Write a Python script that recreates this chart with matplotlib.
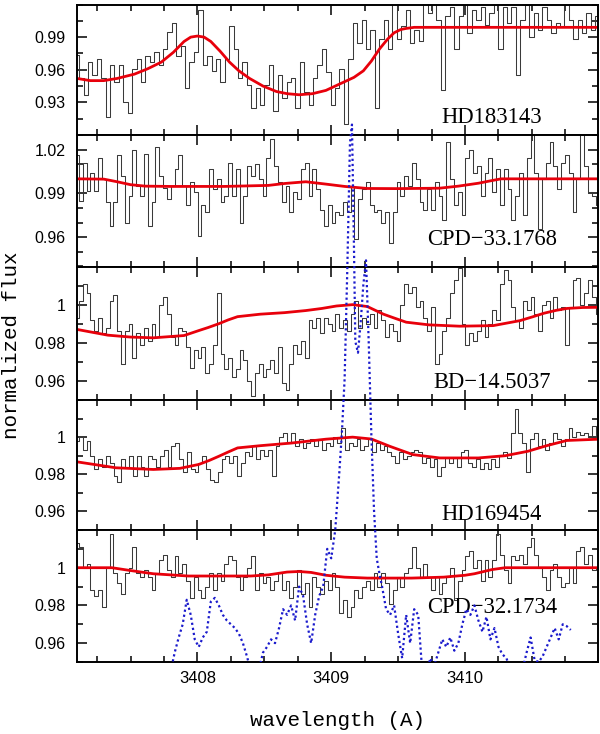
import numpy as np
import matplotlib
matplotlib.use("Agg")
import matplotlib.pyplot as plt
from matplotlib.patches import Rectangle
from matplotlib.ticker import MultipleLocator, FixedLocator, FixedFormatter

# ---------------- data ----------------
star_names = ["HD183143", "CPD\u221233.1768", "BD\u221214.5037", "HD169454", "CPD\u221232.1734"]
wave_start, wave_end = 3407.10, 3410.99

flux_hd183143 = [
    0.974, 0.952, 0.937, 0.967, 0.955, 0.970, 0.952, 0.917, 0.964, 0.949, 0.964, 0.930, 0.920, 0.961,
    0.970, 0.949, 0.973, 0.967, 0.976, 0.964, 0.979, 0.995, 1.003, 0.973, 0.982, 0.943, 0.967, 0.976,
    1.015, 0.964, 0.973, 0.959, 0.970, 0.949, 0.970, 1.000, 0.979, 0.952, 0.967, 0.946, 0.925, 0.943,
    0.928, 0.946, 0.964, 0.922, 0.955, 0.934, 0.949, 0.952, 0.925, 0.967, 0.940, 0.928, 0.952, 0.964,
    0.979, 0.958, 0.928, 0.943, 0.961, 0.910, 0.970, 1.003, 0.985, 1.006, 0.979, 0.997, 0.925, 0.988,
    1.006, 0.979, 1.025, 0.988, 1.000, 1.015, 0.985, 0.997, 0.986, 1.025, 1.012, 1.025, 1.006, 0.941,
    1.009, 1.018, 0.979, 1.009, 1.025, 0.994, 1.015, 1.006, 1.018, 1.001, 1.012, 1.025, 0.979, 1.018,
    1.003, 1.018, 0.955, 1.006, 1.020, 0.990, 1.012, 0.997, 1.018, 1.006, 0.994, 1.003, 0.999, 1.025,
    1.006, 0.988, 1.006, 0.994, 1.012, 0.997, 1.009,
]
flux_cpd33 = [
    1.016, 0.985, 1.011, 0.992, 1.004, 0.992, 1.014, 1.000, 0.984, 0.968, 0.984, 1.016, 1.002, 0.970,
    0.988, 1.020, 0.995, 0.988, 1.017, 0.968, 0.984, 1.022, 1.002, 0.994, 0.986, 0.995, 1.007, 1.016,
    0.995, 0.982, 0.998, 0.991, 0.961, 0.982, 0.977, 1.007, 0.993, 1.000, 0.984, 0.988, 1.011, 0.988,
    1.007, 0.970, 0.988, 1.009, 1.002, 1.010, 1.000, 0.988, 1.014, 1.027, 1.009, 0.998, 0.984, 0.995,
    0.977, 0.991, 0.986, 1.007, 1.011, 0.988, 1.007, 0.993, 0.979, 0.968, 0.982, 0.970, 0.977, 0.975,
    0.984, 0.977, 0.995, 0.959, 0.986, 0.993, 0.998, 0.982, 0.977, 0.979, 0.970, 0.977, 0.956, 0.977,
    0.998, 0.988, 1.002, 0.995, 1.011, 1.000, 0.984, 0.979, 0.993, 0.979, 0.998, 0.988, 0.972, 1.025,
    1.000, 0.982, 0.991, 0.975, 1.014, 1.020, 1.004, 1.009, 0.988, 1.004, 1.014, 0.991, 1.007, 0.982,
    1.007, 0.993, 0.972, 0.988, 1.004, 0.975, 1.014, 1.030, 1.004, 0.966, 1.000, 1.011, 1.025, 1.009,
    0.993, 1.011, 1.016, 1.004, 0.977, 1.000, 1.030, 1.009, 0.991, 0.988, 0.982,
]
flux_bd14 = [
    0.993, 1.002, 1.011, 1.006, 0.992, 0.986, 0.993, 0.985, 0.988, 1.002, 1.005, 0.986, 0.969, 0.986,
    0.990, 0.972, 0.985, 0.979, 0.988, 0.981, 0.990, 0.983, 1.000, 1.004, 0.995, 0.983, 0.979, 0.988,
    0.986, 0.978, 0.967, 0.976, 0.972, 0.978, 0.964, 0.969, 0.979, 1.006, 0.974, 0.966, 0.972, 0.962,
    0.966, 0.976, 0.971, 0.960, 0.952, 0.964, 0.969, 0.962, 0.966, 0.971, 0.964, 0.978, 0.959, 0.955,
    0.969, 0.979, 0.974, 0.981, 0.972, 0.992, 0.988, 0.993, 0.985, 0.993, 0.990, 0.986, 0.995, 0.988,
    0.992, 0.986, 0.995, 1.002, 0.988, 0.993, 0.990, 0.995, 0.988, 0.997, 0.992, 0.983, 0.990, 0.986,
    0.981, 1.000, 1.011, 1.006, 1.009, 0.999, 1.002, 0.993, 0.986, 0.999, 0.969, 0.974, 0.986, 0.993,
    1.006, 1.013, 1.019, 0.990, 0.979, 0.985, 0.981, 0.986, 0.992, 0.983, 0.990, 0.997, 0.992, 1.011,
    1.018, 1.013, 0.999, 0.992, 0.988, 1.002, 0.997, 1.004, 0.995, 0.986, 1.000, 1.002, 0.993, 1.004,
    0.997, 0.999, 0.979, 0.999, 1.013, 1.014, 1.000, 1.006, 1.013, 1.004, 0.995,
]
flux_hd169454 = [
    0.998, 1.000, 0.993, 0.998, 0.990, 0.983, 0.988, 0.984, 0.990, 0.986, 0.979, 0.976, 0.988, 0.984,
    0.990, 0.979, 0.990, 0.984, 0.979, 0.990, 0.988, 0.984, 0.990, 0.993, 0.984, 0.995, 0.997, 0.988,
    0.981, 0.992, 0.983, 0.981, 0.986, 0.990, 0.983, 0.977, 0.976, 0.981, 0.988, 0.990, 0.986, 0.990,
    0.979, 0.986, 0.992, 0.990, 0.995, 0.988, 0.993, 0.990, 0.993, 0.979, 0.995, 1.000, 1.002, 0.997,
    1.002, 0.995, 0.999, 0.994, 0.997, 0.999, 0.995, 0.999, 0.993, 0.997, 0.995, 1.000, 0.997, 1.005,
    0.993, 0.997, 0.995, 0.999, 0.993, 0.995, 0.999, 0.992, 0.997, 0.993, 0.995, 0.992, 0.990, 0.986,
    0.992, 0.988, 0.990, 0.992, 0.993, 0.992, 0.986, 0.989, 0.984, 0.988, 0.979, 0.984, 0.989, 0.986,
    0.989, 0.984, 0.992, 0.993, 0.986, 0.984, 0.988, 0.983, 0.986, 0.983, 0.988, 0.984, 0.990, 0.992,
    0.989, 1.002, 1.015, 1.002, 0.997, 0.981, 0.999, 1.002, 0.995, 0.999, 0.993, 0.997, 1.002, 0.999,
    0.995, 0.999, 1.005, 1.000, 1.003, 1.001, 1.002, 1.000, 1.006, 1.001,
]
flux_cpd32 = [
    1.013, 1.011, 1.000, 1.002, 0.988, 0.985, 0.988, 0.979, 1.000, 1.018, 0.997, 0.992, 0.986, 0.997,
    1.000, 1.011, 0.997, 0.995, 0.999, 0.995, 0.988, 0.997, 1.004, 1.007, 0.999, 0.995, 1.006, 0.997,
    1.002, 0.993, 0.984, 0.995, 0.988, 0.984, 0.990, 0.997, 0.988, 0.997, 0.993, 1.002, 1.006, 1.004,
    0.995, 0.988, 0.995, 1.000, 1.006, 0.988, 0.997, 0.992, 0.995, 0.988, 0.993, 0.997, 0.988, 0.993,
    0.984, 0.990, 0.999, 0.986, 0.992, 0.979, 0.995, 0.990, 0.986, 0.993, 0.988, 0.997, 0.990, 0.976,
    0.983, 0.974, 0.979, 0.988, 0.984, 0.990, 0.993, 0.988, 0.997, 0.990, 0.997, 0.992, 0.981, 0.988,
    0.995, 0.990, 0.997, 1.000, 1.011, 1.000, 0.995, 1.002, 0.995, 0.988, 0.995, 0.986, 0.992, 0.995,
    1.000, 0.983, 0.993, 0.999, 1.006, 1.009, 1.000, 1.004, 0.993, 1.004, 0.995, 1.004, 1.018, 1.007,
    0.999, 0.992, 1.006, 1.004, 1.007, 1.002, 1.011, 1.016, 1.007, 1.000, 0.995, 0.988, 0.999, 1.002,
    0.995, 0.990, 0.992, 1.000, 0.992, 1.009, 1.011, 1.002, 1.007, 0.999, 1.000,
]

model_wave_hd183143 = [3407.10, 3407.20, 3407.30, 3407.40, 3407.53, 3407.63, 3407.73, 3407.82, 3407.90,
                       3407.95, 3408.00, 3408.05, 3408.10, 3408.17, 3408.24, 3408.31, 3408.39, 3408.49,
                       3408.59, 3408.67, 3408.76, 3408.86, 3408.96, 3409.03, 3409.10, 3409.17, 3409.24,
                       3409.30, 3409.36, 3409.42, 3409.47, 3409.52, 3409.56, 3409.62, 3409.67, 3410.00,
                       3410.50, 3411.00]
model_flux_hd183143 = [0.952, 0.950, 0.950, 0.952, 0.956, 0.961, 0.967, 0.976, 0.986, 0.990, 0.991, 0.990,
                       0.986, 0.977, 0.967, 0.959, 0.952, 0.945, 0.940, 0.938, 0.937, 0.938, 0.941, 0.945,
                       0.949, 0.953, 0.959, 0.968, 0.979, 0.988, 0.994, 0.997, 0.998, 0.999, 0.999, 0.999,
                       0.999, 0.999]
model_wave_cpd33 = [3407.10, 3407.30, 3407.40, 3407.50, 3407.61, 3407.80, 3408.20, 3408.53, 3408.65,
                    3408.81, 3408.95, 3409.10, 3409.27, 3409.50, 3409.81, 3409.95, 3410.10, 3410.20,
                    3410.27, 3410.60, 3411.00]
model_flux_cpd33 = [1.000, 0.9998, 0.998, 0.996, 0.995, 0.9948, 0.9948, 0.9955, 0.9968, 0.998, 0.9965,
                    0.9948, 0.9934, 0.9933, 0.9936, 0.995, 0.997, 0.9988, 1.000, 1.000, 1.000]
model_wave_bd14 = [3407.10, 3407.33, 3407.50, 3407.67, 3407.90, 3408.01, 3408.08, 3408.16, 3408.23,
                   3408.30, 3408.47, 3408.65, 3408.81, 3408.93, 3409.04, 3409.16, 3409.27, 3409.33,
                   3409.39, 3409.47, 3409.56, 3409.73, 3409.96, 3410.21, 3410.41, 3410.50, 3410.59,
                   3410.68, 3410.76, 3410.88, 3411.00]
model_flux_bd14 = [0.987, 0.984, 0.983, 0.9826, 0.9838, 0.9864, 0.988, 0.990, 0.992, 0.9937, 0.995,
                   0.9958, 0.9969, 0.998, 0.9993, 1.000, 0.999, 0.997, 0.995, 0.993, 0.9908, 0.9894,
                   0.9887, 0.989, 0.9916, 0.9935, 0.9955, 0.997, 0.998, 0.9985, 0.9986]
model_wave_hd169454 = [3407.10, 3407.39, 3407.67, 3407.87, 3408.01, 3408.09, 3408.16, 3408.23, 3408.30,
                       3408.47, 3408.70, 3408.96, 3409.16, 3409.30, 3409.44, 3409.61, 3409.81, 3410.10,
                       3410.30, 3410.47, 3410.61, 3410.76, 3411.00]
model_flux_hd169454 = [0.9867, 0.9835, 0.9826, 0.9832, 0.9853, 0.9875, 0.9897, 0.992, 0.9942, 0.9954,
                       0.9968, 0.9989, 1.000, 0.999, 0.995, 0.9906, 0.9888, 0.9888, 0.990, 0.9924,
                       0.9954, 0.9982, 0.9989]
model_wave_cpd32 = [3407.10, 3407.36, 3407.50, 3407.67, 3407.93, 3408.40, 3408.53, 3408.67, 3408.76,
                    3408.85, 3408.96, 3409.10, 3409.27, 3409.60, 3409.84, 3410.00, 3410.07, 3410.20,
                    3410.30, 3411.00]
model_flux_cpd32 = [1.000, 1.000, 0.9985, 0.9968, 0.9956, 0.9956, 0.9962, 0.9977, 0.998, 0.9975, 0.996,
                    0.995, 0.9945, 0.9945, 0.995, 0.996, 0.9968, 0.999, 1.000, 1.000]

# comparison spectrum (blue dotted), in units of the bottom panel
comp_wave = [3407.80, 3407.83, 3407.86, 3407.89, 3407.92, 3407.95, 3407.98, 3408.01, 3408.04, 3408.07,
             3408.10, 3408.13, 3408.16, 3408.19, 3408.22, 3408.25, 3408.28, 3408.31, 3408.34, 3408.37,
             3408.40, 3408.43, 3408.46, 3408.49, 3408.52, 3408.55, 3408.58, 3408.61, 3408.64, 3408.67,
             3408.70, 3408.73, 3408.76, 3408.79, 3408.82, 3408.85, 3408.88, 3408.91, 3408.94, 3408.97,
             3409.00, 3409.03, 3409.06, 3409.08, 3409.10, 3409.12, 3409.14, 3409.155, 3409.17, 3409.18,
             3409.20, 3409.22, 3409.24, 3409.26, 3409.28, 3409.30, 3409.32, 3409.34, 3409.36, 3409.38,
             3409.41, 3409.44, 3409.47, 3409.50, 3409.53, 3409.56, 3409.59, 3409.62, 3409.65, 3409.68,
             3409.71, 3409.74, 3409.77, 3409.80, 3409.83, 3409.86, 3409.89, 3409.92, 3409.95, 3409.98,
             3410.01, 3410.04, 3410.07, 3410.10, 3410.13, 3410.16, 3410.19, 3410.22, 3410.25, 3410.28,
             3410.31, 3410.34, 3410.37, 3410.40, 3410.43, 3410.46, 3410.49, 3410.52, 3410.55, 3410.58,
             3410.61, 3410.64, 3410.67, 3410.70, 3410.73, 3410.76, 3410.79]
comp_flux = [0.945, 0.955, 0.963, 0.970, 0.983, 0.975, 0.962, 0.958, 0.963, 0.966,
             0.982, 0.984, 0.980, 0.975, 0.972, 0.970, 0.968, 0.965, 0.960, 0.953,
             0.945, 0.942, 0.946, 0.955, 0.958, 0.962, 0.960, 0.968, 0.978, 0.975,
             0.980, 0.972, 0.990, 0.985, 0.970, 0.960, 0.975, 0.985, 0.990, 1.010,
             1.005, 1.020, 1.050, 1.072, 1.100, 1.158, 1.225, 1.235, 1.170, 1.120,
             1.114, 1.130, 1.150, 1.163, 1.120, 1.070, 1.030, 1.005, 0.997, 0.990,
             0.978, 0.975, 0.980, 0.965, 0.952, 0.975, 0.960, 0.978, 0.975, 0.945,
             0.942, 0.952, 0.948, 0.955, 0.962, 0.958, 0.963, 0.956, 0.960, 0.970,
             0.978, 0.975, 0.980, 0.972, 0.966, 0.974, 0.962, 0.968, 0.958, 0.954,
             0.952, 0.945, 0.943, 0.944, 0.946, 0.955, 0.963, 0.951, 0.950, 0.953,
             0.958, 0.963, 0.968, 0.962, 0.970, 0.969, 0.967]

y_limits = [(0.90, 1.02), (0.94, 1.03), (0.95, 1.02), (0.95, 1.02), (0.95, 1.02)]
y_major = [[0.93, 0.96, 0.99], [0.96, 0.99, 1.02], [0.96, 0.98, 1.00], [0.96, 0.98, 1.00], [0.96, 0.98, 1.00]]
y_major_labels = [["0.93", "0.96", "0.99"], ["0.96", "0.99", "1.02"], ["0.96", "0.98", "1"],
                  ["0.96", "0.98", "1"], ["0.96", "0.98", "1"]]
y_minor_step = [0.015, 0.01, 0.01, 0.01, 0.01]
x_major = [3408, 3409, 3410]
x_major_labels = ["3408", "3409", "3410"]
label_y = [0.09, 0.163, 0.088, 0.077, 0.369]

spectra = [flux_hd183143, flux_cpd33, flux_bd14, flux_hd169454, flux_cpd32]
model_waves = [model_wave_hd183143, model_wave_cpd33, model_wave_bd14, model_wave_hd169454, model_wave_cpd32]
model_fluxes = [model_flux_hd183143, model_flux_cpd33, model_flux_bd14, model_flux_hd169454, model_flux_cpd32]

# ---------------- figure ----------------
W, H = 600, 734
fig = plt.figure(figsize=(6.0, 7.34), dpi=100)
left_px, right_px = 77, 597.5
bounds_px = [4.5, 135, 266.5, 400, 530, 662]

tick_font = dict(family="Liberation Sans", size=11.5)
axes = []
for i in range(5):
    top, bot = bounds_px[i], bounds_px[i + 1]
    ax = fig.add_axes([left_px / W, 1 - bot / H, (right_px - left_px) / W, (bot - top) / H])
    axes.append(ax)
    wl = np.linspace(wave_start, wave_end, len(spectra[i]))
    ax.plot(wl, spectra[i], drawstyle="steps-mid", color="#3a3a3a", lw=0.75)
    ax.plot(model_waves[i], model_fluxes[i], color="#e8000b", lw=2.0, solid_capstyle="round")
    ax.set_xlim(3407.10, 3410.99)
    ax.set_ylim(*y_limits[i])
    ax.xaxis.set_major_locator(FixedLocator(x_major))
    ax.xaxis.set_minor_locator(MultipleLocator(0.25))
    ax.yaxis.set_major_locator(FixedLocator(y_major[i]))
    ax.yaxis.set_major_formatter(FixedFormatter(y_major_labels[i]))
    ax.yaxis.set_minor_locator(MultipleLocator(y_minor_step[i]))
    ax.tick_params(which="both", direction="in", top=True, right=True, width=1.1, color="black")
    ax.tick_params(which="major", length=7.5)
    ax.tick_params(which="minor", length=4.0)
    ax.tick_params(axis="y", which="major", pad=8)
    ax.tick_params(axis="x", which="major", pad=6.5)
    for s in ax.spines.values():
        s.set_linewidth(1.4)
    for lab in ax.get_yticklabels():
        lab.set_fontfamily(tick_font["family"])
        lab.set_fontsize(tick_font["size"])
    if i < 4:
        ax.set_xticklabels([])
    else:
        ax.xaxis.set_major_formatter(FixedFormatter(x_major_labels))
        for lab in ax.get_xticklabels():
            lab.set_fontfamily(tick_font["family"])
            lab.set_fontsize(12)
    ax.text(0.797, label_y[i], star_names[i], transform=ax.transAxes, ha="center", va="baseline",
            family="Liberation Serif", fontsize=16.3)

# blue dotted comparison spectrum, drawn in the bottom panel's units, spilling upward
ax5 = axes[-1]
blue, = ax5.plot(comp_wave, comp_flux, color="#1a1acc", lw=1.6, ls=(0, (1.0, 1.3)),
                 dash_capstyle="butt", zorder=5)
clip = Rectangle((left_px / W, 1 - bounds_px[-1] / H), (right_px - left_px) / W, bounds_px[-1] / H,
                 transform=fig.transFigure, facecolor="none", edgecolor="none")
blue.set_clip_path(clip)

fig.text(12 / W, 1 - 345 / H, "normalized flux", rotation=90, ha="center", va="center",
         family="Liberation Mono", fontsize=15)
fig.text(337 / W, 1 - 721 / H, "wavelength (A)", ha="center", va="center",
         family="Liberation Mono", fontsize=15)

fig.savefig("out.png", dpi=100)
